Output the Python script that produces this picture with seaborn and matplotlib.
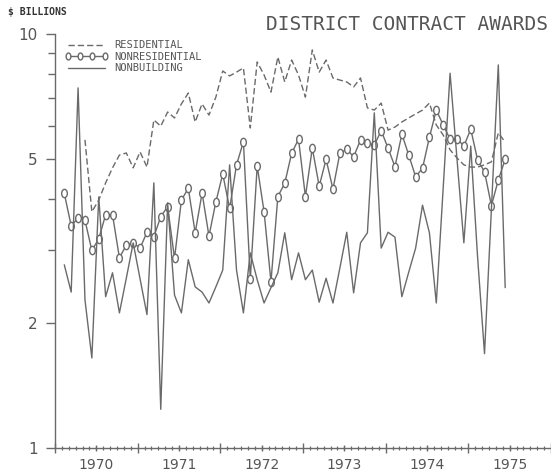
import numpy as np
import pandas as pd
import matplotlib
matplotlib.use("Agg")
import matplotlib.pyplot as plt
import seaborn as sns
from matplotlib.path import Path
from matplotlib.transforms import Affine2D
from matplotlib.ticker import FixedLocator, NullFormatter

# monthly observations, Feb 1970 - Jun 1975 ($ billions, log scale)
months = pd.date_range("1970-02-01", periods=65, freq="MS")

residential = [
    np.nan, np.nan, np.nan,
    5.55, 3.72, 3.97, 4.37, 4.75, 5.10, 5.16, 4.75, 5.19, 4.77,
    6.20, 5.99, 6.48, 6.27, 6.78, 7.20, 6.13, 6.78, 6.37, 7.04,
    8.14, 7.92, 8.09, 8.28, 5.93, 8.56, 7.96, 7.24, 8.80, 7.66,
    8.65, 7.96, 7.04, 9.15, 8.09, 8.65, 7.83, 7.74, 7.66, 7.45,
    7.83, 6.63, 6.55, 6.81, 5.86, 5.96, 6.13, 6.27, 6.41, 6.55,
    6.81, 6.03, 5.70, 5.25, 5.02, 4.83, 4.77, 4.77, 4.83, 4.91,
    5.77, 5.48,
]
nonresidential = [
    4.12, 3.44, 3.59, 3.55, 3.00, 3.20, 3.66, 3.66, 2.88, 3.09,
    3.13, 3.04, 3.32, 3.24, 3.62, 3.83, 2.87, 3.97, 4.24, 3.31,
    4.13, 3.25, 3.93, 4.59, 3.79, 4.83, 5.49, 2.56, 4.80, 3.72,
    2.52, 4.05, 4.36, 5.15, 5.57, 4.05, 5.30, 4.29, 4.98, 4.22,
    5.15, 5.27, 5.05, 5.55, 5.45, 5.39, 5.84, 5.30, 4.78, 5.73,
    5.10, 4.52, 4.74, 5.63, 6.55, 6.03, 5.57, 5.59, 5.36, 5.89,
    4.96, 4.65, 3.85, 4.44, 4.98,
]
nonbuilding = [
    2.77, 2.38, 7.41, 2.28, 1.65, 4.04, 2.32, 2.65, 2.12, 2.57,
    3.13, 2.56, 2.10, 4.37, 1.24, 3.91, 2.34, 2.12, 2.85, 2.45,
    2.38, 2.24, 2.45, 2.69, 4.83, 2.69, 2.12, 2.96, 2.55, 2.24,
    2.44, 2.65, 3.31, 2.55, 2.96, 2.55, 2.69, 2.25, 2.57, 2.24,
    2.72, 3.32, 2.37, 3.13, 3.31, 6.45, 3.04, 3.32, 3.23, 2.32,
    2.66, 3.04, 3.86, 3.31, 2.24, 4.25, 8.04, 5.00, 3.13, 5.36,
    2.88, 1.69, 3.78, 8.42, 2.44,
]
years = [1970, 1971, 1972, 1973, 1974, 1975]
year_labels = ["1970", "1971", "1972", "1973", "1974", "1975"]
y_labeled = [1, 2, 5, 10]
y_minor = [3, 4, 6, 7, 8, 9]

# decimal year, point drawn a little into each month
t = months.year + (months.month - 1 + 0.35) / 12

df = pd.DataFrame({"t": t, "res": residential, "nonres": nonresidential, "nonbld": nonbuilding})

sns.set_style("ticks")
gray = "#6a6a6a"
txt = "#555555"

fig = plt.figure(figsize=(5.51, 4.73), dpi=100)
ax = fig.add_axes([55 / 551, 25 / 473, 496 / 551, 414 / 473])

# tall rounded "0" marker like the plotter symbol
zero = Path.unit_circle().transformed(Affine2D().scale(0.68, 1.0))

sns.lineplot(data=df, x="t", y="res", ax=ax, color=gray, lw=1.0,
             linestyle=(0, (4.5, 2.2)), estimator=None, label="RESIDENTIAL")
sns.lineplot(data=df, x="t", y="nonres", ax=ax, color=gray, lw=1.0,
             marker=zero, markersize=6, markerfacecolor="white",
             markeredgecolor=gray, markeredgewidth=1.0,
             estimator=None, label="NONRESIDENTIAL")
sns.lineplot(data=df, x="t", y="nonbld", ax=ax, color=gray, lw=1.0,
             estimator=None, label="NONBUILDING")

ax.set_yscale("log")
ax.set_ylim(1, 10)
ax.set_xlim(1970, 1976)
ax.set_xlabel("")
ax.set_ylabel("")
sns.despine(ax=ax)
for s in ("left", "bottom"):
    ax.spines[s].set_color(gray)
    ax.spines[s].set_linewidth(1.0)

# y axis
ax.yaxis.set_major_locator(FixedLocator(y_labeled))
ax.yaxis.set_minor_locator(FixedLocator(y_minor))
ax.set_yticklabels([str(v) for v in y_labeled])
ax.yaxis.set_minor_formatter(NullFormatter())
ax.tick_params(axis="y", which="major", direction="out", length=6.5, width=1.0,
               color=gray, labelsize=11, labelcolor=txt, pad=6)
ax.tick_params(axis="y", which="minor", direction="out", length=5, width=1.0, color=gray)

# x axis: year boundaries and months
ax.xaxis.set_major_locator(FixedLocator(years + [1976]))
ax.xaxis.set_minor_locator(FixedLocator([y + m / 12 for y in years for m in range(1, 12)]))
ax.xaxis.set_major_formatter(NullFormatter())
ax.tick_params(axis="x", which="major", direction="inout", length=7.5, width=1.0, color=gray)
ax.tick_params(axis="x", which="minor", direction="inout", length=3.5, width=0.9, color=gray)

# year labels centered in each year, with mid-year ticks
sec = ax.secondary_xaxis("bottom")
sec.set_xticks([y + 0.5 for y in years])
sec.set_xticklabels(year_labels)
sec.spines["bottom"].set_visible(False)
sec.tick_params(axis="x", direction="inout", length=5, width=1.0, color=gray,
                labelsize=10, labelcolor=txt, pad=5)

leg = ax.legend(loc="upper left", bbox_to_anchor=(0.02, 0.985), frameon=False,
                numpoints=4, handlelength=4.1, handletextpad=0.6, labelspacing=0.15,
                borderpad=0, borderaxespad=0,
                prop={"family": "DejaVu Sans Mono", "size": 7.5})
for tx in leg.get_texts():
    tx.set_color(txt)
for ln in leg.get_lines():
    ln.set_markersize(5)

fig.text(548 / 551, 1 - 24 / 473, "DISTRICT CONTRACT AWARDS", ha="right", va="center",
         family="DejaVu Sans Mono", size=14, color=txt)
fig.text(8 / 551, 1 - 12 / 473, r"\$ BILLIONS", ha="left", va="center",
         family="DejaVu Sans Mono", size=7, weight="bold", color="#333333")

fig.savefig("out.png", dpi=100)
